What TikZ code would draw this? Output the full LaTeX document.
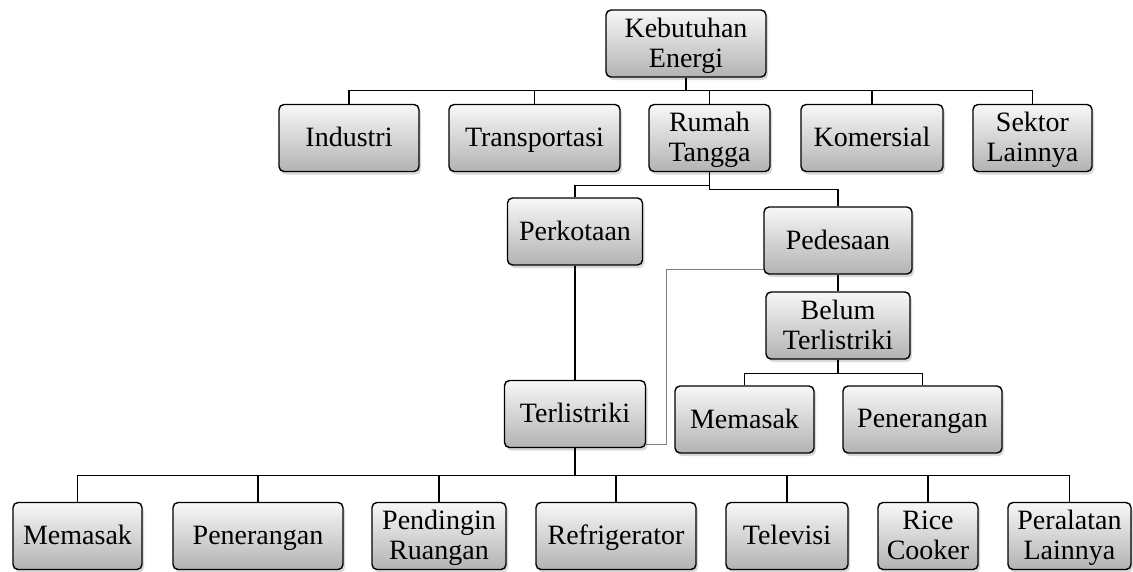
\documentclass[tikz,border=0pt]{standalone}
\usepackage{fontspec}
\setmainfont{Liberation Serif}
\usepackage{tikz}
\usetikzlibrary{calc, shadows}
\usepackage{xcolor}

\begin{document}
\begin{tikzpicture}[x=1pt, y=-1pt, font=\fontsize{28}{30}\selectfont]
				\tikzstyle{box} = [draw=black, line width=1.4pt, rounded corners=5pt, align=center, inner sep=2pt, text depth=0.22em, top color=black!3, bottom color=black!30, drop shadow={shadow xshift=2pt, shadow yshift=-3pt, opacity=0.3}, minimum height=67pt]
				\tikzstyle{link} = [line width=1.3pt, draw=black]
				\tikzstyle{trunk} = [line width=2.4pt, draw=black]
				\tikzstyle{side} = [line width=1.3pt, draw=black!50]
				
				\useasboundingbox (0,0) rectangle (1133,571);
				
				% level 0 and 1
				\node[box, minimum width=160pt] at (686, 43.5)		(keb)	{Kebutuhan\\Energi};
				\node[box, minimum width=140pt] at (349, 138)		(ind)	{Industri};
				\node[box, minimum width=171pt] at (534.5, 138)	(tra)	{Transportasi};
				\node[box, minimum width=121pt] at (709.5, 138)	(rum)	{Rumah\\Tangga};
				\node[box, minimum width=142pt] at (872, 138)		(kom)	{Komersial};
				\node[box, minimum width=119pt] at (1032.5, 138)	(sek)	{Sektor\\Lainnya};
				
				% rumah tangga
				\node[box, minimum width=135pt] at (575, 231.5)	(kot)	{Perkotaan};
				\node[box, minimum width=148pt] at (838, 240.5)	(des)	{Pedesaan};
				\node[box, minimum width=144pt] at (838, 325.5)	(bel)	{Belum\\Terlistriki};
				\node[box, minimum width=141pt] at (575, 414)		(lis)	{Terlistriki};
				\node[box, minimum width=139pt] at (744.5, 419.5)	(bm)	{Memasak};
				\node[box, minimum width=159pt] at (922.5, 419.5)	(bp)	{Penerangan};
				
				% peralatan
				\node[box, minimum width=129pt] at (77.5, 536)		(m1)	{Memasak};
				\node[box, minimum width=170pt] at (258, 536)		(p1)	{Penerangan};
				\node[box, minimum width=134pt] at (439, 536)		(pr)	{Pendingin\\Ruangan};
				\node[box, minimum width=160pt] at (616, 536)		(rf)	{Refrigerator};
				\node[box, minimum width=122pt] at (787, 536)		(tv)	{Televisi};
				\node[box, minimum width=100pt] at (928, 536)		(rc)	{Rice\\Cooker};
				\node[box, minimum width=123pt] at (1069.5, 536)	(pl)	{Peralatan\\Lainnya};
				
				\foreach \n in {ind, tra, rum, kom, sek}
					\draw[link] (keb.south) -- ++(0,13) -| (\n.north);
				\draw[trunk] (keb.south) -- ++(0,13);
				
				\draw[link] (rum.south) -- ++(0,13) -| (kot.north);
				\draw[link] (rum.south) -- ++(0,17) -| (des.north);
				\draw[link] (kot.south) -- (lis.north);
				\draw[link] (des.south) -- (bel.north);
				
				\foreach \n in {bm, bp}
					\draw[link] (bel.south) -- ++(0,14) -| (\n.north);
				
				\foreach \n in {m1, p1, pr, rf, tv, rc, pl}
					\draw[link] (lis.south) -- ++(0,27) -| (\n.north);
				\draw[trunk] (lis.south) -- ++(0,27);
				
				\draw[side] ([yshift=4pt]lis.south east) -- ++(20,0) |- ([yshift=5pt]des.south west);
			\end{tikzpicture}
\end{document}
